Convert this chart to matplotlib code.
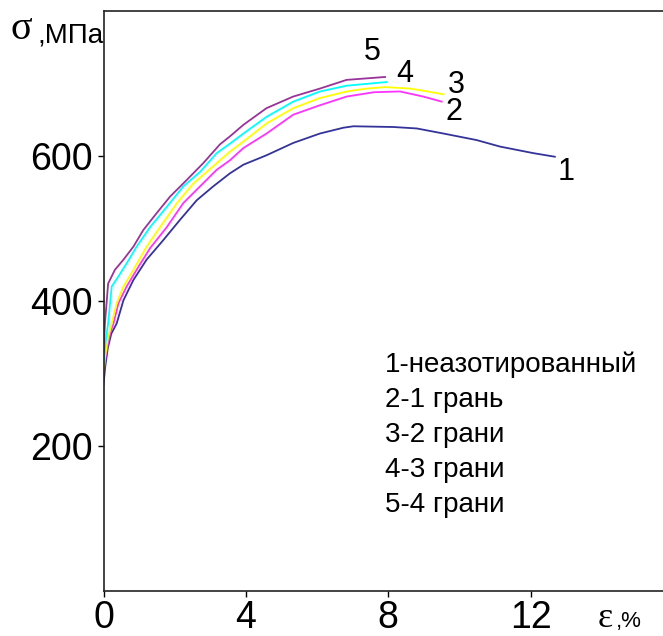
import matplotlib
matplotlib.use("Agg")
import matplotlib.pyplot as plt

# ---- data ----
eps1 = [0, 0.05, 0.12, 0.22, 0.37, 0.56, 0.84, 1.21, 1.68, 2.15, 2.62, 3.08, 3.55, 3.93,
        4.58, 5.33, 6.08, 6.74, 7.02, 8.14, 8.8, 9.55, 10.48, 11.14, 12.07, 12.68]
sig1 = [285, 310, 335, 355, 369, 401, 429, 457, 484, 512, 539, 558, 576, 588,
        601, 618, 631, 639, 641, 640, 638, 631, 622, 613, 604, 599]

eps2 = [0, 0.05, 0.12, 0.2, 0.28, 0.42, 0.65, 0.93, 1.31, 1.78, 2.24, 2.71, 3.18, 3.55,
        3.93, 4.58, 5.33, 6.08, 6.83, 7.6, 8.33, 8.98, 9.5]
sig2 = [300, 320, 340, 358, 369, 397, 420, 443, 473, 502, 535, 558, 581, 594,
        611, 631, 657, 670, 682, 688, 689, 682, 675]

eps3 = [0, 0.05, 0.12, 0.23, 0.37, 0.56, 0.84, 1.21, 1.59, 2.06, 2.52, 2.99, 3.27, 3.55,
        3.93, 4.58, 5.33, 6.08, 6.83, 7.39, 7.91, 8.61, 9.1, 9.55]
sig3 = [305, 325, 348, 369, 397, 420, 443, 475, 502, 535, 562, 582, 594, 606,
        620, 645, 666, 680, 689, 693, 695, 693, 689, 685]

eps4 = [0, 0.04, 0.08, 0.13, 0.23, 0.42, 0.65, 0.93, 1.31, 1.78, 2.24, 2.71, 3.18, 3.55,
        3.93, 4.58, 5.33, 6.08, 6.83, 7.95]
sig4 = [315, 335, 352, 369, 420, 434, 452, 475, 502, 530, 558, 578, 604, 617,
        631, 654, 675, 689, 697, 702]

eps5 = [0, 0.02, 0.04, 0.13, 0.32, 0.56, 0.84, 1.12, 1.49, 1.87, 2.34, 2.80, 3.27, 3.55,
        3.93, 4.58, 5.33, 6.08, 6.83, 7.91]
sig5 = [330, 350, 369, 424, 443, 457, 475, 498, 521, 544, 567, 590, 616, 627,
        643, 666, 682, 693, 705, 709]

curve_numbers = ["1", "2", "3", "4", "5"]
legend_lines = ["1-неазотированный", "2-1 грань", "3-2 грани", "4-3 грани", "5-4 грани"]
x_ticks = [0, 4, 8, 12]
y_ticks = [200, 400, 600]

colors = ["#33339a", "#ff33ff", "#ffff00", "#00ffff", "#993399"]

SANS = ["Liberation Sans", "DejaVu Sans"]
SERIF = ["Liberation Serif", "DejaVu Serif"]

W, H = 663, 636
fig = plt.figure(figsize=(W / 100, H / 100), dpi=100)
fig.patch.set_facecolor("white")

left_px, right_px, top_px, bottom_px = 103.5, 673, 11, 591
ax = fig.add_axes([left_px / W, 1 - bottom_px / H,
                   (right_px - left_px) / W, (bottom_px - top_px) / H])

series = [(eps1, sig1), (eps2, sig2), (eps3, sig3), (eps4, sig4), (eps5, sig5)]
for (e, s), c in zip(series, colors):
    ax.plot(e, s, color=c, lw=1.3, solid_joinstyle="miter")

ax.set_xlim(0, 16)
ax.set_ylim(0, 800)
ax.set_xticks(x_ticks)
ax.set_yticks(y_ticks)
ax.set_xticklabels([str(v) for v in x_ticks], family=SANS, fontsize=27)
ax.set_yticklabels([str(v) for v in y_ticks], family=SANS, fontsize=27)
ax.tick_params(axis="x", direction="out", length=4.5, width=1, pad=2, colors="black")
ax.tick_params(axis="y", direction="out", length=4.5, width=1, pad=3.5, colors="black")
ax.spines["right"].set_visible(False)
for sp in ["left", "top", "bottom"]:
    ax.spines[sp].set_linewidth(1.2)
    ax.spines[sp].set_color("#222222")

# curve numbers
num_pos = [(13.0, 578), (9.85, 661), (9.9, 698), (8.47, 713), (7.54, 743)]
for t, (x, y) in zip(curve_numbers, num_pos):
    ax.text(x, y, t, family=SANS, fontsize=22, ha="center", va="center")

# legend text
leg_y = [302, 254, 206, 157, 109]
for t, y in zip(legend_lines, leg_y):
    ax.text(7.91, y, t, family=SANS, fontsize=20, ha="left", va="baseline")

# axis labels
fig.text(10 / W, 1 - 39 / H, "σ", family=SERIF, fontsize=29, ha="left", va="baseline")
fig.text(37 / W, 1 - 42 / H, ",МПа", family=SANS, fontsize=20, ha="left", va="baseline")
fig.text(598 / W, 1 - 627 / H, "ε", family=SERIF, fontsize=26, ha="left", va="baseline")
fig.text(616 / W, 1 - 627 / H, ",%", family=SANS, fontsize=16, ha="left", va="baseline")

fig.savefig("out.png", dpi=100, facecolor="white")
